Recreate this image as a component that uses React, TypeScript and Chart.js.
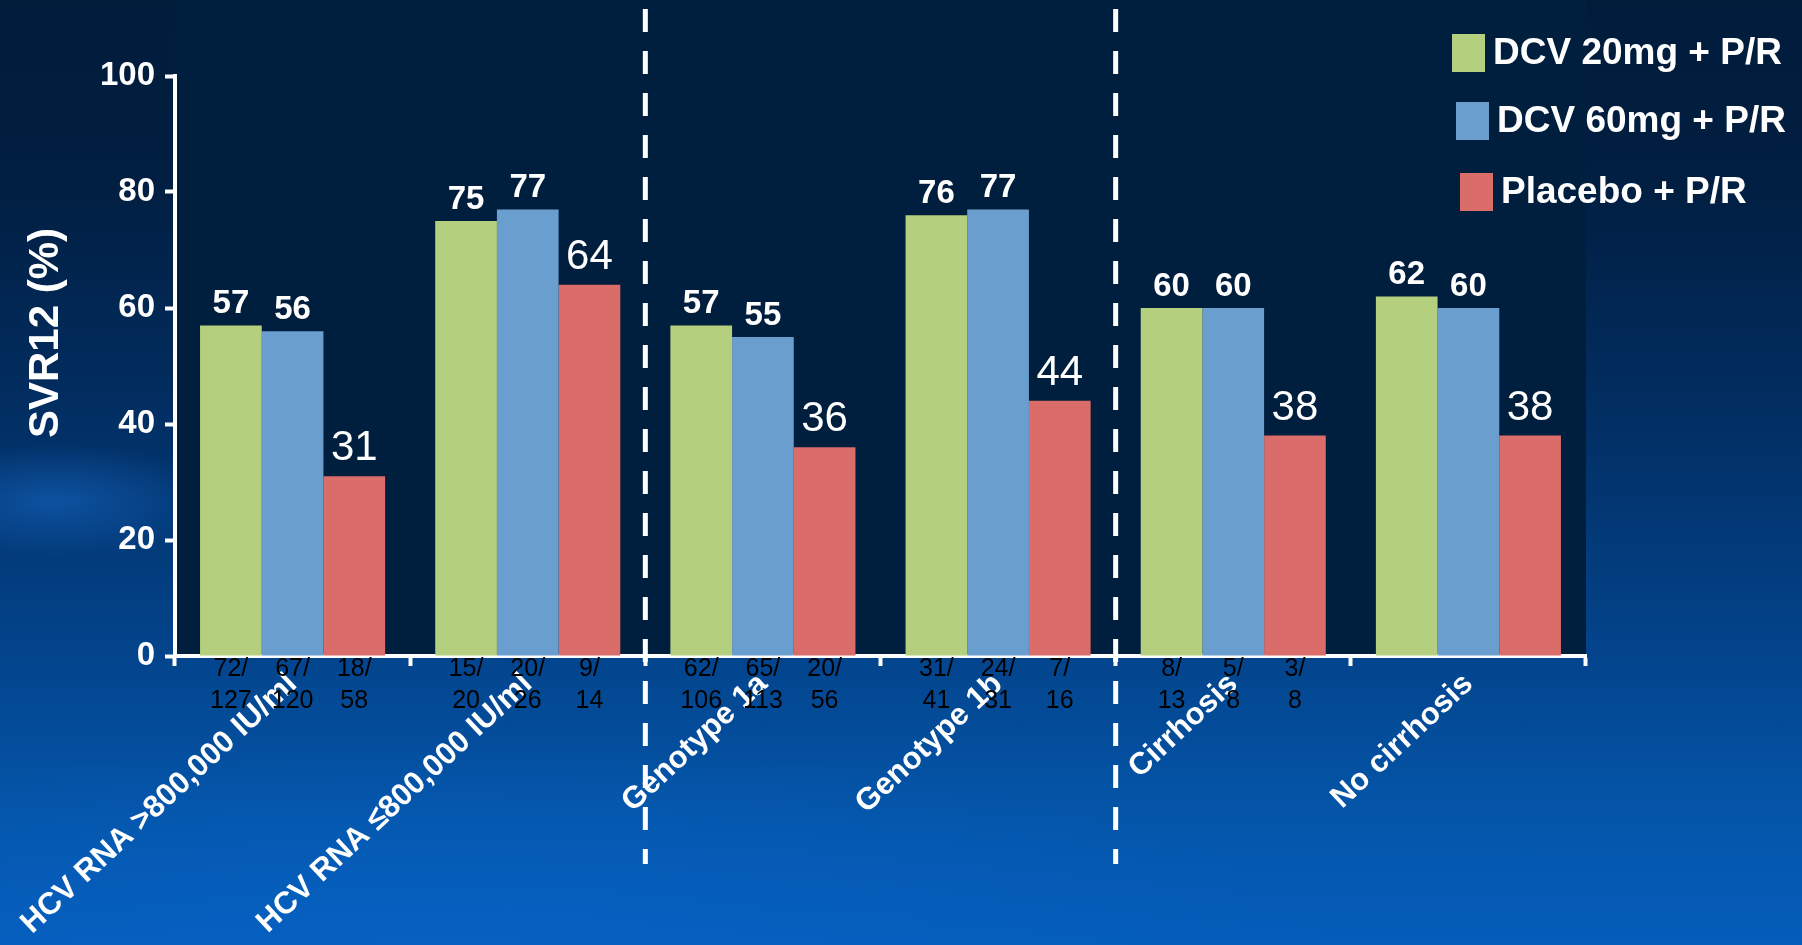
import React, { useEffect, useRef } from "react";
import { Chart, registerables } from "chart.js";

Chart.register(...registerables);

const FONT = '"Liberation Sans", Arial, Helvetica, sans-serif';

const categories = [
  "HCV RNA >800,000 IU/ml",
  "HCV RNA ≤800,000 IU/ml",
  "Genotype 1a",
  "Genotype 1b",
  "Cirrhosis",
  "No cirrhosis",
];
const seriesLabels = ["DCV 20mg + P/R", "DCV 60mg + P/R", "Placebo + P/R"];
const seriesColors = ["#B4D07E", "#6A9ECF", "#DA6C6A"];
const dcv20 = [57, 75, 57, 76, 60, 62];
const dcv60 = [56, 77, 55, 77, 60, 60];
const placebo = [31, 64, 36, 44, 38, 38];
const counts20 = [["72/", "127"], ["15/", "20"], ["62/", "106"], ["31/", "41"], ["8/", "13"], ["", ""]];
const counts60 = [["67/", "120"], ["20/", "26"], ["65/", "113"], ["24/", "31"], ["5/", "8"], ["", ""]];
const countsPbo = [["18/", "58"], ["9/", "14"], ["20/", "56"], ["7/", "16"], ["3/", "8"], ["", ""]];
const yTickValues = [0, 20, 40, 60, 80, 100];
const yTitle = "SVR12 (%)";
const dividerAfter = [1, 3];

const allCounts = [counts20, counts60, countsPbo];

const bgPlugin = {
  id: "plotBg",
  beforeDraw(chart: any) {
    const { ctx, chartArea } = chart;
    ctx.save();
    ctx.fillStyle = "#001E3E";
    ctx.fillRect(chartArea.left, 0, chartArea.right - chartArea.left, chartArea.bottom);
    ctx.restore();
  },
};

const labelsPlugin = {
  id: "barLabels",
  afterDatasetsDraw(chart: any) {
    const { ctx, chartArea, scales } = chart;
    ctx.save();
    chart.data.datasets.forEach((ds: any, di: number) => {
      const meta = chart.getDatasetMeta(di);
      meta.data.forEach((bar: any, i: number) => {
        const v = ds.data[i];
        ctx.fillStyle = "#FFFFFF";
        ctx.textAlign = "center";
        ctx.textBaseline = "alphabetic";
        if (di === 2) {
          ctx.font = `42px ${FONT}`;
          ctx.fillText(String(v), bar.x, bar.y - 16);
        } else {
          ctx.font = `bold 33px ${FONT}`;
          ctx.fillText(String(v), bar.x, bar.y - 12);
        }
        const c = allCounts[di][i];
        ctx.fillStyle = "#000000";
        ctx.font = `25px ${FONT}`;
        ctx.textBaseline = "middle";
        ctx.fillText(c[0], bar.x, chartArea.bottom + 13);
        ctx.fillText(c[1], bar.x, chartArea.bottom + 45);
      });
    });
    // dashed separators
    const xs = scales.x;
    ctx.strokeStyle = "#FFFFFF";
    ctx.lineWidth = 5;
    ctx.setLineDash([23, 19]);
    dividerAfter.forEach((idx) => {
      const x = (xs.getPixelForValue(idx) + xs.getPixelForValue(idx + 1)) / 2;
      ctx.beginPath();
      ctx.moveTo(x, chartArea.top - 67);
      ctx.lineTo(x, chart.height - 81);
      ctx.stroke();
    });
    ctx.restore();
  },
  afterDraw(chart: any) {
    const { ctx } = chart;
    ctx.save();
    // y title
    ctx.translate(46, 333);
    ctx.rotate(-Math.PI / 2);
    ctx.fillStyle = "#FFFFFF";
    ctx.font = `bold 42px ${FONT}`;
    ctx.textAlign = "center";
    ctx.textBaseline = "middle";
    ctx.fillText(yTitle, 0, 0);
    ctx.restore();
    // legend
    ctx.save();
    const rows = [53, 121, 192];
    chart.data.datasets.forEach((ds: any, i: number) => {
      const sx = 1452 + i * 4;
      const cy = rows[i];
      ctx.fillStyle = ds.backgroundColor;
      ctx.fillRect(sx, cy - 19, 33, 38);
      ctx.fillStyle = "#FFFFFF";
      ctx.font = `bold 37px ${FONT}`;
      ctx.textAlign = "left";
      ctx.textBaseline = "middle";
      ctx.fillText(ds.label, sx + 41, cy + 1);
    });
    ctx.restore();
  },
};

export default function App() {
  const ref = useRef<HTMLCanvasElement>(null);
  useEffect(() => {
    document.body.style.margin = "0";
    const datasets = [dcv20, dcv60, placebo].map((d, i) => ({
      label: seriesLabels[i],
      data: d,
      backgroundColor: seriesColors[i],
      borderWidth: 0,
      categoryPercentage: 0.787,
      barPercentage: 1.0,
    }));
    const chart = new Chart(ref.current as HTMLCanvasElement, {
      type: "bar",
      data: { labels: categories, datasets },
      options: {
        responsive: false,
        animation: false,
        devicePixelRatio: 1,
        layout: { padding: { top: 76, right: 216, left: 0, bottom: 0 } },
        plugins: { legend: { display: false }, tooltip: { enabled: false } },
        scales: {
          x: {
            offset: true,
            grid: {
              offset: true,
              drawOnChartArea: false,
              drawTicks: true,
              tickLength: 10,
              tickWidth: 4,
              tickColor: "#FFFFFF",
            },
            border: { display: true, color: "#FFFFFF", width: 4 },
            ticks: {
              color: "#FFFFFF",
              font: { family: FONT, weight: "bold", size: 31 },
              minRotation: 43,
              maxRotation: 43,
              autoSkip: false,
              padding: 0,
            },
            afterFit: (s: any) => {
              s.height = 945 - 656;
              s.paddingLeft = 0;
              s.paddingRight = 0;
            },
          },
          y: {
            min: 0,
            max: 100,
            afterBuildTicks: (s: any) => {
              s.ticks = yTickValues.map((v) => ({ value: v }));
            },
            grid: {
              drawOnChartArea: false,
              drawTicks: true,
              tickLength: 10,
              tickWidth: 4,
              tickColor: "#FFFFFF",
            },
            border: { display: true, color: "#FFFFFF", width: 4 },
            ticks: {
              color: "#FFFFFF",
              font: { family: FONT, weight: "bold", size: 33 },
              padding: 10,
            },
            afterFit: (s: any) => {
              s.width = 175;
              s.paddingTop = 0;
              s.paddingBottom = 0;
            },
          },
        },
      } as any,
      plugins: [bgPlugin, labelsPlugin],
    });
    return () => chart.destroy();
  }, []);
  return (
    <div
      style={{
        position: "absolute",
        left: 0,
        top: 0,
        width: 1802,
        height: 945,
        overflow: "hidden",
        background:
          "radial-gradient(ellipse 70% 30% at 25% 100%, rgba(8,100,200,0.55), rgba(8,100,200,0) 70%), radial-gradient(ellipse 9% 6% at 3% 53%, rgba(20,100,190,0.6), rgba(20,100,190,0) 100%), linear-gradient(180deg, #011c3b 0%, #011f42 20%, #022d60 42%, #03438a 68%, #0455a9 86%, #055dba 100%)",
      }}
    >
      <canvas ref={ref} width={1802} height={945} style={{ display: "block", width: 1802, height: 945 }} />
    </div>
  );
}
